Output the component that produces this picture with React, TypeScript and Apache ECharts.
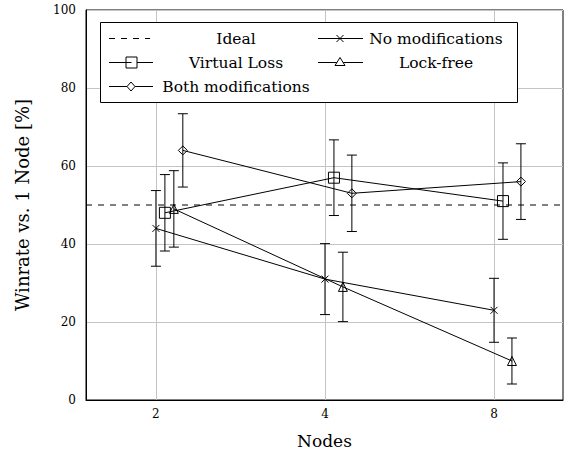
import React, { useEffect, useRef } from "react";
import * as echarts from "echarts";

const nodes = [2, 4, 8];
const noModifications = [44, 31, 23];
const noModificationsErr = [9.7, 9.1, 8.2];
const virtualLoss = [48, 57, 51];
const virtualLossErr = [9.8, 9.7, 9.8];
const lockFree = [49, 29, 10];
const lockFreeErr = [9.8, 8.9, 5.9];
const bothModifications = [64, 53, 56];
const bothModificationsErr = [9.4, 9.8, 9.7];
const idealValue = [50];
const seriesNames = ["No modifications", "Virtual Loss", "Lock-free", "Both modifications"];
const xTickNodes = [2, 4, 8];

const FONT = "DejaVu Serif";
const X_MIN = 0.5863;
const X_MAX = 3.408;
const SHIFT = 0.053;
const CROSS = "path://M0,0L10,10M10,0L0,10";

export default function App() {
  const ref = useRef<HTMLDivElement>(null);
  useEffect(() => {
    document.body.style.margin = "0";
    const chart = echarts.init(ref.current!, null, { renderer: "svg" });
    const groups = [
      { name: seriesNames[0], vals: noModifications, errs: noModificationsErr, symbol: CROSS, size: 7 },
      { name: seriesNames[1], vals: virtualLoss, errs: virtualLossErr, symbol: "rect", size: 11 },
      { name: seriesNames[2], vals: lockFree, errs: lockFreeErr, symbol: "triangle", size: 9 },
      { name: seriesNames[3], vals: bothModifications, errs: bothModificationsErr, symbol: "diamond", size: 9 },
    ];
    const black = "#000";
    const series: any[] = [];
    series.push({
      type: "line",
      name: "Ideal",
      data: [[X_MIN, idealValue[0]], [X_MAX, idealValue[0]]],
      symbol: "none",
      lineStyle: { color: black, width: 1, type: [6, 6] },
      silent: true,
      z: 1,
    });
    groups.forEach((g, k) => {
      const xs = nodes.map((n) => Math.log2(n) + k * SHIFT);
      series.push({
        type: "line",
        name: g.name,
        data: xs.map((x, i) => [x, g.vals[i]]),
        symbol: g.symbol,
        symbolSize: g.size,
        showSymbol: true,
        itemStyle: { color: "rgba(0,0,0,0)", borderColor: black, borderWidth: 1 },
        lineStyle: { color: black, width: 1 },
        z: 3,
      });
      series.push({
        type: "custom",
        name: g.name + " err",
        data: xs.map((x, i) => [x, g.vals[i] - g.errs[i], g.vals[i] + g.errs[i]]),
        encode: { x: 0, y: [1, 2] },
        z: 2,
        renderItem: (params: any, api: any) => {
          const x = api.value(0);
          const lo = api.coord([x, api.value(1)]);
          const hi = api.coord([x, api.value(2)]);
          const hw = 5;
          const st = { stroke: black, lineWidth: 1 };
          return {
            type: "group",
            children: [
              { type: "line", shape: { x1: lo[0], y1: lo[1], x2: hi[0], y2: hi[1] }, style: st },
              { type: "line", shape: { x1: lo[0] - hw, y1: lo[1], x2: lo[0] + hw, y2: lo[1] }, style: st },
              { type: "line", shape: { x1: hi[0] - hw, y1: hi[1], x2: hi[0] + hw, y2: hi[1] }, style: st },
            ],
          };
        },
      });
    });

    const lt = { fill: black, font: `15.5px "${FONT}"`, textAlign: "center", textVerticalAlign: "middle" };
    const ls = { stroke: black, lineWidth: 1, fill: "none" };
    const r1 = 38.5, r2 = 62.5, r3 = 86.5;
    const graphic: any[] = [
      { type: "rect", shape: { x: 100.5, y: 22.5, width: 417, height: 80 }, style: { fill: "#fff", stroke: black, lineWidth: 1 }, z: 10 },
      { type: "line", shape: { x1: 109, y1: r1, x2: 150, y2: r1 }, style: { ...ls, lineDash: [6, 6] }, z: 11 },
      { type: "text", x: 236, y: r1, style: { ...lt, text: "Ideal" }, z: 11 },
      { type: "line", shape: { x1: 318, y1: r1, x2: 363, y2: r1 }, style: ls, z: 11 },
      { type: "line", shape: { x1: 336.5, y1: r1 - 3.5, x2: 343.5, y2: r1 + 3.5 }, style: ls, z: 11 },
      { type: "line", shape: { x1: 343.5, y1: r1 - 3.5, x2: 336.5, y2: r1 + 3.5 }, style: ls, z: 11 },
      { type: "text", x: 436, y: r1, style: { ...lt, text: "No modifications" }, z: 11 },
      { type: "line", shape: { x1: 109, y1: r2, x2: 153, y2: r2 }, style: ls, z: 11 },
      { type: "rect", shape: { x: 126, y: r2 - 5.5, width: 11, height: 11 }, style: { ...ls, fill: "#fff" }, z: 12 },
      { type: "line", shape: { x1: 126, y1: r2, x2: 131.5, y2: r2 }, style: ls, z: 13 },
      { type: "text", x: 236, y: r2, style: { ...lt, text: "Virtual Loss" }, z: 11 },
      { type: "line", shape: { x1: 318, y1: r2, x2: 363, y2: r2 }, style: ls, z: 11 },
      { type: "polygon", shape: { points: [[340, r2 - 5], [345, r2 + 3], [335, r2 + 3]] }, style: { ...ls, fill: "#fff" }, z: 12 },
      { type: "text", x: 436, y: r2, style: { ...lt, text: "Lock-free" }, z: 11 },
      { type: "line", shape: { x1: 109, y1: r3, x2: 153, y2: r3 }, style: ls, z: 11 },
      { type: "polygon", shape: { points: [[131, r3 - 4.5], [135, r3], [131, r3 + 4.5], [127, r3]] }, style: { ...ls, fill: "#fff" }, z: 12 },
      { type: "text", x: 236, y: r3, style: { ...lt, text: "Both modifications" }, z: 11 },
    ];

    const tickVals = xTickNodes.map((n) => Math.log2(n));
    chart.setOption({
      animation: false,
      backgroundColor: "#fff",
      textStyle: { fontFamily: FONT },
      grid: { left: 86, top: 10, right: 17, bottom: 54, show: true, borderColor: black, borderWidth: 1, containLabel: false },
      xAxis: {
        type: "value",
        min: X_MIN,
        max: X_MAX,
        name: "Nodes",
        nameLocation: "middle",
        nameGap: 32,
        nameTextStyle: { fontFamily: FONT, fontSize: 17, color: black },
        axisLine: { show: true, lineStyle: { color: black, width: 1 } },
        axisTick: { show: false, customValues: tickVals },
        axisLabel: {
          customValues: tickVals,
          fontFamily: FONT,
          fontSize: 12,
          color: black,
          margin: 8,
          formatter: (v: number) => String(Math.round(Math.pow(2, v))),
        },
        splitLine: { show: true, lineStyle: { color: "#c4c4c4", width: 1 } },
      },
      yAxis: {
        type: "value",
        min: 0,
        max: 100,
        interval: 20,
        name: "Winrate vs. 1 Node [%]",
        nameLocation: "middle",
        nameGap: 55,
        nameTextStyle: { fontFamily: FONT, fontSize: 18, color: black },
        axisLine: { show: true, lineStyle: { color: black, width: 1 } },
        axisTick: { show: false },
        axisLabel: { fontFamily: FONT, fontSize: 12, color: black, margin: 10 },
        splitLine: { show: true, lineStyle: { color: "#c4c4c4", width: 1 } },
      },
      series,
      graphic,
    });
    return () => chart.dispose();
  }, []);
  return <div ref={ref} style={{ width: 580, height: 454 }} />;
}
